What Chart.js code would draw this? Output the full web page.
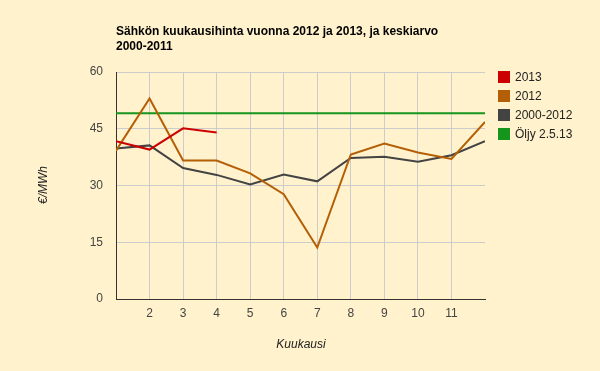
<!DOCTYPE html>
<html>
<head>
<meta charset="utf-8">
<script src="https://cdn.jsdelivr.net/npm/chart.js@4"></script>
<style>
  html, body { margin: 0; padding: 0; background: #fff2cc; }
  #wrap { width: 600px; height: 371px; }
</style>
</head>
<body>
<div id="wrap"><canvas id="chart" width="600" height="371"></canvas></div>
<script>
// --- DATA ---
const months = [1, 2, 3, 4, 5, 6, 7, 8, 9, 10, 11, 12];
const price2013 = [41.7, 39.5, 45.1, 44.0];
const price2012 = [39.2, 53.0, 36.6, 36.6, 33.2, 27.7, 13.6, 38.2, 41.1, 38.7, 37.0, 46.8];
const avg2000 = [39.8, 40.6, 34.6, 32.8, 30.3, 32.9, 31.1, 37.3, 37.6, 36.3, 38.0, 41.7];
const oilLevel = 49.1;
const yTicks = [0, 15, 30, 45, 60];

const titleLines = ['Sähkön kuukausihinta vuonna 2012 ja 2013, ja keskiarvo', '2000-2011'];
const seriesNames = ['2013', '2012', '2000-2012', 'Öljy 2.5.13'];
const seriesColors = ['#cc0000', '#b45f06', '#434343', '#16951d'];

const toPoints = vals => vals.map((v, i) => ({ x: months[i], y: v }));

// --- TITLE, LEGEND, AXIS TITLES ---
const decor = {
    id: 'decor',
    afterDraw(chart) {
        const c = chart.ctx;
        c.save();
        c.fillStyle = '#000';
        c.font = 'bold 12px "Liberation Sans", Arial, sans-serif';
        c.textBaseline = 'alphabetic';
        c.fillText(titleLines[0], 116, 35);
        c.fillText(titleLines[1], 116, 50);

        c.font = '12px "Liberation Sans", Arial, sans-serif';
        seriesNames.forEach((n, i) => {
            const y = 71 + i * 19;
            c.fillStyle = seriesColors[i];
            c.fillRect(498, y, 12, 12);
            c.fillStyle = '#222';
            c.textBaseline = 'middle';
            c.fillText(n, 515, y + 6.5);
        });

        c.font = 'italic 12px "Liberation Sans", Arial, sans-serif';
        c.fillStyle = '#222';
        c.textAlign = 'center';
        c.textBaseline = 'middle';
        c.fillText('Kuukausi', 301, 345);
        c.translate(44, 185);
        c.rotate(-Math.PI / 2);
        c.fillText('€/MWh', 0, 0);
        c.restore();
    }
};

const line = (label, data, color) => ({
    label, data, borderColor: color, backgroundColor: color,
    borderWidth: 2, pointRadius: 0, tension: 0, fill: false
});

new Chart(document.getElementById('chart'), {
    type: 'line',
    data: {
        datasets: [
            line(seriesNames[0], toPoints(price2013), seriesColors[0]),
            line(seriesNames[1], toPoints(price2012), seriesColors[1]),
            line(seriesNames[2], toPoints(avg2000), seriesColors[2]),
            line(seriesNames[3], [{ x: months[0], y: oilLevel }, { x: months[months.length - 1], y: oilLevel }], seriesColors[3])
        ]
    },
    options: {
        responsive: false,
        animation: false,
        layout: { padding: { top: 72, right: 115, bottom: 0, left: 0 } },
        plugins: { legend: { display: false }, title: { display: false }, tooltip: { enabled: false } },
        scales: {
            x: {
                type: 'linear', min: 1, max: 12,
                afterBuildTicks: s => { s.ticks = months.map(v => ({ value: v })); },
                afterFit: s => { s.height = 72; },
                ticks: {
                    padding: 7, color: '#444', maxRotation: 0, autoSkip: false,
                    font: { family: '"Liberation Sans", Arial, sans-serif', size: 12 },
                    callback: v => (v === 1 || v === 12) ? '' : v
                },
                grid: {
                    drawTicks: false, lineWidth: 1,
                    color: ctx => (ctx.tick && (ctx.tick.value === 1 || ctx.tick.value === 12)) ? 'rgba(0,0,0,0)' : '#cccccc'
                },
                border: { color: '#333', width: 1 }
            },
            y: {
                min: 0, max: 60,
                afterBuildTicks: s => { s.ticks = yTicks.map(v => ({ value: v })); },
                afterFit: s => { s.width = 116; },
                ticks: {
                    padding: 13, color: '#444',
                    font: { family: '"Liberation Sans", Arial, sans-serif', size: 12 }
                },
                grid: {
                    drawTicks: false, lineWidth: 1,
                    color: ctx => (ctx.tick && ctx.tick.value === 0) ? 'rgba(0,0,0,0)' : '#cccccc'
                },
                border: { color: '#333', width: 1 }
            }
        }
    },
    plugins: [decor]
});
</script>
</body>
</html>
